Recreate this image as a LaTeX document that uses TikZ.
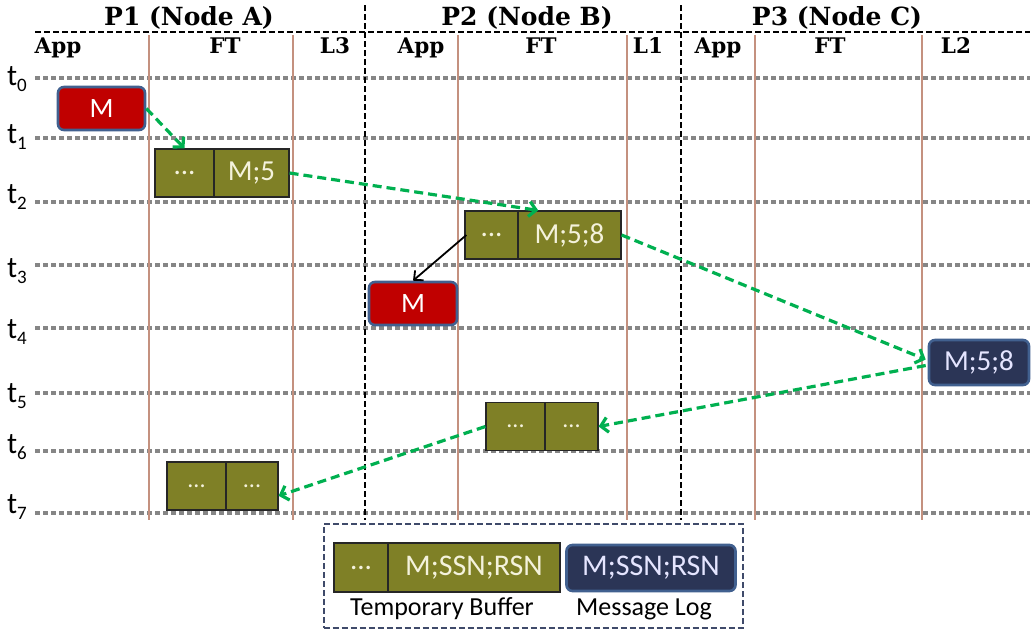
\documentclass[tikz,border=0pt]{standalone}
\usepackage{fontspec}
\setmainfont{Carlito}
\newfontfamily\hdrfont{DejaVu Serif}
\usetikzlibrary{arrows.meta,calc}

\definecolor{olivebuf}{HTML}{7F8026}
\definecolor{msgred}{HTML}{C00000}
\definecolor{edgeblue}{HTML}{41608F}
\definecolor{lognavy}{HTML}{2B3556}
\definecolor{flowgreen}{HTML}{00B050}
\definecolor{lanebrown}{HTML}{C4917F}
\definecolor{tickgray}{HTML}{868686}
\definecolor{legendedge}{HTML}{3F4A6A}
\definecolor{cream}{HTML}{F4F2DC}

% subscript for the time labels
\newcommand\tsub[1]{\raisebox{-6pt}{\fontsize{19}{19}\selectfont #1}}

\begin{document}
\begin{tikzpicture}[x=1pt,y=-1pt,
  cell/.style={draw=black!85, line width=1.2pt, fill=olivebuf, text=cream,
    inner sep=0pt, font=\fontsize{29}{29}\selectfont},
  msgbox/.style={draw=edgeblue, line width=2.6pt, rounded corners=6pt,
    fill=msgred, text=white, inner sep=0pt, font=\fontsize{28}{28}\selectfont},
  logbox/.style={msgbox, fill=lognavy, text=white!90!blue, font=\fontsize{29}{29}\selectfont},
  flow/.style={draw=flowgreen, line width=3.2pt, dash pattern=on 9pt off 5pt,
    -{Straight Barb[length=7pt,width=15pt]}},
  deliver/.style={draw=black, line width=1.8pt, -{Straight Barb[length=7pt,width=13pt]}},
  timeline/.style={draw=tickgray, line width=4pt, dash pattern=on 5pt off 3pt},
  lane/.style={draw=lanebrown, line width=2.6pt},
  divider/.style={draw=black, line width=2pt, dash pattern=on 6pt off 3pt},
  title/.style={font=\hdrfont\bfseries\fontsize{25}{25}\selectfont, anchor=base},
  column/.style={font=\hdrfont\bfseries\fontsize{21.5}{21.5}\selectfont, anchor=base},
  tlabel/.style={font=\fontsize{30}{30}\selectfont, anchor=base west, inner sep=0pt},
  caption/.style={font=\fontsize{26}{26}\selectfont, anchor=base}
]
\fill[white] (0,0) rectangle (1034,633);
\useasboundingbox (0,0) rectangle (1034,633);

% time lines and their labels
\foreach \ty/\tb/\k in {78/85/0,138/143/1,202/203/2,265/277/3,328/338/4,393/402/5,451/453/6,513/513/7}{
  \draw[timeline] (35,\ty) -- (1030,\ty);
  \node[tlabel] (t\k) at (7,\tb) {t\tsub{\k}};
}

% header rule
\draw[divider] (35,32) -- (1030,32);

% lanes
\foreach \lx in {149,293,458,627,755,922}{
  \draw[lane] (\lx,35) -- (\lx,520);
}

% process separators
\draw[divider] (365,5) -- (365,520);
\draw[divider] (681,5) -- (681,520);

% titles
\node[title] (p1) at (189,25) {P1 (Node A)};
\node[title] (p2) at (527,25) {P2 (Node B)};
\node[title] (p3) at (837,25) {P3 (Node C)};

% column headers
\node[column] (c1a) at (58,53) {App};
\node[column] (c1f) at (225,53) {FT};
\node[column] (c1l) at (335,53) {L3};
\node[column] (c2a) at (421,53) {App};
\node[column] (c2f) at (541,53) {FT};
\node[column] (c2l) at (648,53) {L1};
\node[column] (c3a) at (718,53) {App};
\node[column] (c3f) at (830,53) {FT};
\node[column] (c3l) at (956,53) {L2};

% messages at the application layer
\node[msgbox, minimum width=87pt, minimum height=43pt] (mA) at (101.5,108.5) {M};
\node[msgbox, minimum width=88pt, minimum height=43pt] (mB) at (413,303.5) {M};

% temporary buffers
\node[cell, minimum width=59pt, minimum height=48pt] (fa1) at (184.5,173) {...};
\node[cell, minimum width=75pt, minimum height=48pt] (fa2) at (251.5,173) {M;5};

\node[cell, minimum width=53pt, minimum height=48pt] (fb1) at (491.5,235) {...};
\node[cell, minimum width=103pt, minimum height=48pt] (fb2) at (569.5,235) {M;5;8};

\node[cell, minimum width=59pt, minimum height=48pt, font=\fontsize{24}{24}\selectfont] (gb1) at (515.5,426.5) {...};
\node[cell, minimum width=53pt, minimum height=48pt, font=\fontsize{24}{24}\selectfont] (gb2) at (571.5,426.5) {...};

\node[cell, minimum width=59pt, minimum height=48pt, font=\fontsize{24}{24}\selectfont] (ha1) at (196.5,486) {...};
\node[cell, minimum width=52pt, minimum height=48pt, font=\fontsize{24}{24}\selectfont] (ha2) at (252,486) {...};

% message log
\node[logbox, minimum width=100pt, minimum height=45pt] (log) at (979,362.5) {M;5;8};

% message flow
\draw[flow] (mA.east) -- (fa1.north);
\draw[flow] (fa2.east) -- ($(fb2.north west)!0.2!(fb2.north east)$);
\draw[flow] (fb2.east) -- ($(log.west)+(-2,-3)$);
\draw[flow] ($(log.west)+(-2,3)$) -- (gb2.east);
\draw[flow] (gb1.west) -- ($(ha2.south east)!0.3!(ha2.north east)$);
\draw[deliver] ($(fb1.west)+(2,0)$) -- (mB.north);

% legend
\node[draw=legendedge, line width=2pt, dash pattern=on 6pt off 3pt,
  minimum width=419pt, minimum height=104pt, inner sep=0pt] (legend) at (533,576) {};
\node[cell, minimum width=54pt, minimum height=49pt] (lc1) at (361,567.5) {...};
\node[cell, minimum width=172pt, minimum height=49pt, font=\fontsize{30}{30}\selectfont] (lc2) at (474,567.5) {M;SSN;RSN};
\node[logbox, minimum width=169pt, minimum height=46pt, font=\fontsize{30}{30}\selectfont] (llog) at (651,568) {M;SSN;RSN};
\node[caption] (lbuf) at (442,615) {Temporary Buffer};
\node[caption] (llab) at (644,615) {Message Log};
\end{tikzpicture}
\end{document}
